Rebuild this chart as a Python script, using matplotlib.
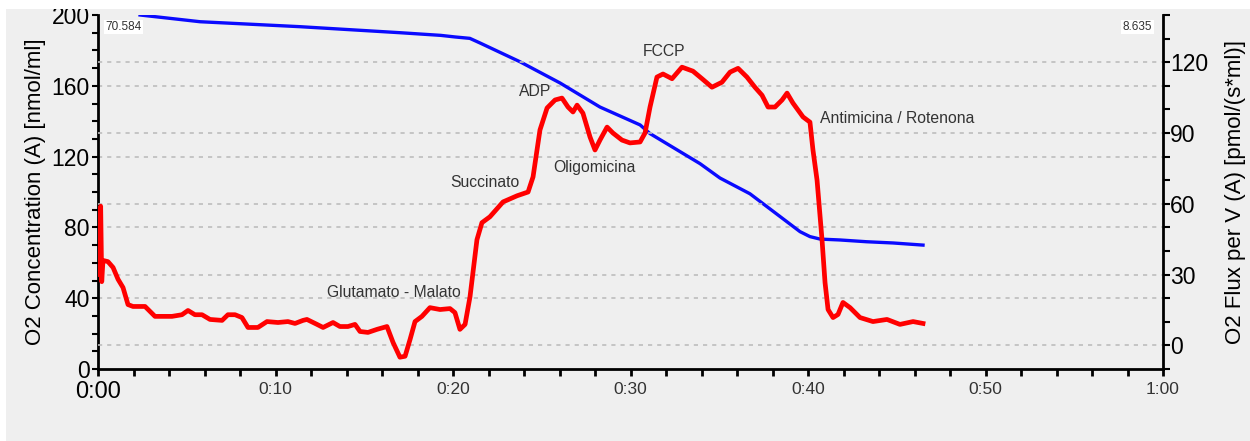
import numpy as np
import matplotlib.pyplot as plt
from matplotlib.ticker import MultipleLocator, FixedLocator, FixedFormatter
from matplotlib.patches import Rectangle

plt.rcParams['font.family'] = ['Liberation Sans', 'DejaVu Sans']

# O2 flux (red, right axis) - time in minutes
flux_t = [0.10, 0.15, 0.21, 0.28, 0.56, 0.85, 1.13, 1.41, 1.69, 1.97, 2.65, 3.21, 4.17, 4.73,
          5.07, 5.46, 5.86, 6.31, 6.99, 7.32, 7.72, 8.11, 8.45, 9.01, 9.52, 10.14, 10.70,
          11.10, 11.55, 11.77, 12.34, 12.68, 13.24, 13.63, 14.08, 14.48, 14.76, 15.21,
          15.72, 16.28, 16.62, 17.01, 17.30, 17.58, 17.86, 18.25, 18.70, 19.27, 19.83,
          20.11, 20.39, 20.68, 20.96, 21.35, 21.63, 22.08, 22.82, 23.61, 24.23, 24.51,
          24.90, 25.30, 25.75, 26.14, 26.48, 26.76, 26.99, 27.32, 27.72, 28.00, 28.28,
          28.68, 29.01, 29.52, 29.97, 30.54, 30.82, 31.10, 31.49, 31.83, 32.34, 32.90,
          33.52, 34.03, 34.59, 35.15, 35.61, 36.06, 36.56, 37.01, 37.41, 37.75, 38.14,
          38.54, 38.82, 39.15, 39.72, 40.11, 40.28, 40.51, 40.79, 40.96, 41.13, 41.41,
          41.69, 41.97, 42.37, 42.93, 43.66, 44.45, 45.18, 45.92, 46.48]
flux = [30.0, 59.0, 27.0, 36.0, 35.5, 33.0, 28.0, 24.5, 17.3, 16.5, 16.5, 12.3, 12.3, 13.0,
        14.8, 13.0, 13.0, 11.0, 10.6, 13.0, 13.0, 11.8, 7.6, 7.6, 10.1, 9.7, 10.1,
        9.3, 10.6, 11.0, 8.9, 7.6, 9.7, 8.0, 8.0, 8.9, 5.9, 5.5,
        6.8, 8.0, 1.3, -5.0, -4.6, 2.5, 10.1, 12.3, 16.0, 15.2, 15.6,
        13.9, 6.8, 8.9, 20.7, 44.8, 52.0, 54.5, 60.8, 63.4, 65.0, 71.4,
        91.3, 100.6, 104.0, 104.8, 101.0, 98.9, 101.8, 98.4, 88.3, 82.8, 87.0,
        92.5, 90.0, 87.0, 85.8, 86.2, 90.0, 101.0, 113.7, 115.0, 113.0, 117.9,
        116.2, 113.0, 109.4, 111.5, 115.8, 117.4, 113.7, 109.4, 106.0, 101.0, 101.0,
        104.0, 106.9, 102.7, 96.8, 94.6, 82.8, 70.0, 44.8, 26.6, 15.2, 11.8,
        13.1, 18.2, 16.0, 11.8, 10.1, 11.0, 8.9, 10.1, 9.3]

# O2 concentration (blue, left axis)
conc_t = [2.37, 5.75, 11.38, 17.01, 19.30, 20.11, 20.95, 21.52, 23.77, 26.03, 28.28,
          30.54, 31.10, 33.92, 35.04, 36.73, 39.55, 40.11, 40.68, 41.80, 43.30, 44.80, 46.48]
conc = [200.0, 196.2, 193.4, 190.0, 188.5, 187.6, 186.8, 184.2, 173.6, 161.6, 148.0,
        137.9, 133.0, 116.0, 107.9, 99.0, 77.6, 74.8, 73.4, 72.9, 71.9, 71.2, 70.0]

xticks = [0, 10, 20, 30, 40, 50, 60]
xlabels = ['0:00', '0:10', '0:20', '0:30', '0:40', '0:50', '1:00']

events = ['Glutamato - Malato', 'Succinato', 'ADP', 'Oligomicina', 'FCCP', 'Antimicina / Rotenona']
event_t = [12.9, 19.83, 23.72, 25.63, 30.7, 40.68]
event_c = [43.5, 105.1, 156.5, 114.1, 179.1, 141.8]

bg = '#efefef'
fig = plt.figure(figsize=(12.5, 4.41), dpi=100, facecolor=bg)
ax = fig.add_axes([98/1250, 1-369/441, 1065/1250, 354/441])
ax.set_facecolor(bg)
ax2 = ax.twinx()

ax.plot(conc_t, conc, color='#0a0aff', lw=2.4, zorder=3)
ax2.plot(flux_t, flux, color='#ff0000', lw=3.4, solid_joinstyle='round', zorder=3)

ax.set_xlim(0, 60)
ax.set_ylim(0, 200)
ax2.set_ylim(-10, 140)

# grid lines of both axes
for v in [40, 80, 120, 160]:
    ax.axhline(v, color='#bdbdbd', lw=1.2, ls=(0, (2.5, 3)), zorder=1)
for v in [0, 30, 60, 90, 120]:
    ax2.axhline(v, color='#bdbdbd', lw=1.2, ls=(0, (2.5, 3)), zorder=1)

for a in (ax, ax2):
    a.spines['top'].set_visible(False)
    for s in ['left', 'right', 'bottom']:
        a.spines[s].set_linewidth(2)
ax.spines['right'].set_visible(False)
ax2.spines['left'].set_visible(False)
ax2.spines['bottom'].set_visible(False)

ax.xaxis.set_major_locator(FixedLocator(xticks))
ax.xaxis.set_major_formatter(FixedFormatter(xlabels))
ax.xaxis.set_minor_locator(MultipleLocator(2))
ax.tick_params(axis='x', which='both', direction='out', length=5, width=2, pad=4,
               labelsize=12.5, labelcolor='#333333')
ax.get_xticklabels()[0].set_fontsize(17)
ax.get_xticklabels()[0].set_color('black')

ax.yaxis.set_major_locator(MultipleLocator(40))
ax.yaxis.set_minor_locator(MultipleLocator(10))
ax.tick_params(axis='y', which='both', direction='out', length=4, width=1.5, pad=2,
               labelsize=16.5)
ax2.yaxis.set_major_locator(FixedLocator([0, 30, 60, 90, 120]))
ax2.yaxis.set_minor_locator(MultipleLocator(10))
ax2.tick_params(axis='y', which='both', direction='out', length=5, width=1.5, pad=0,
                labelsize=16.5)

ax.set_ylabel('O2 Concentration (A) [nmol/ml]', fontsize=16, labelpad=4)
ax2.set_ylabel('O2 Flux per V (A) [pmol/(s*ml)]', fontsize=16, labelpad=12)

for name, t, c in zip(events, event_t, event_c):
    ax.text(t, c, name, fontsize=11.3, color='#333333', ha='left', va='center', zorder=4)

ax.text(0.007, 0.966, '70.584', transform=ax.transAxes, fontsize=8.5, color='#333333',
        ha='left', va='center', bbox=dict(facecolor='white', edgecolor='none', pad=1), zorder=5)
ax.text(0.99, 0.966, '8.635', transform=ax.transAxes, fontsize=8.5, color='#333333',
        ha='right', va='center', bbox=dict(facecolor='white', edgecolor='none', pad=1), zorder=5)

# white frame strips of the screenshot
fig.patches.append(Rectangle((0, 1-9/441), 1, 9/441, transform=fig.transFigure,
                             facecolor='white', edgecolor='none', zorder=10))
fig.patches.append(Rectangle((0, 0), 6/1250, 1, transform=fig.transFigure,
                             facecolor='white', edgecolor='none', zorder=10))

fig.savefig('out.png', dpi=100, facecolor=bg)
